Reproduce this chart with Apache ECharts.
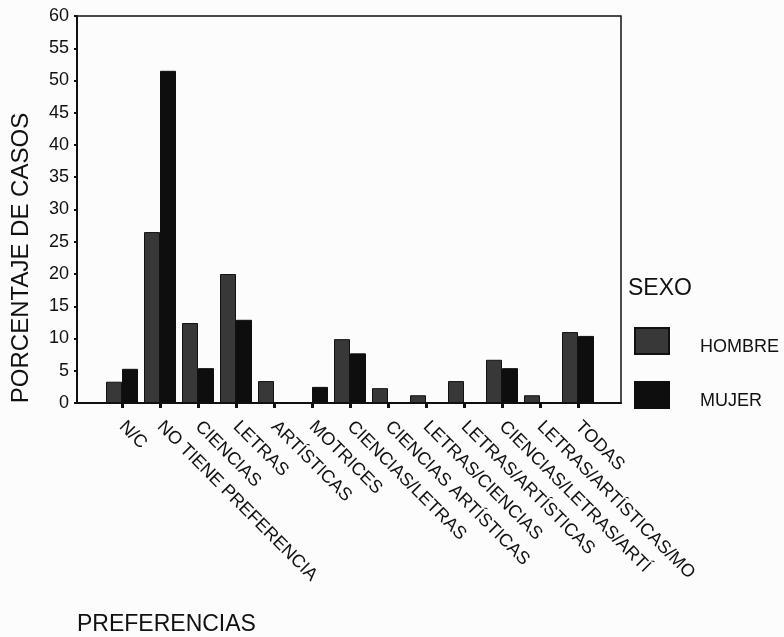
<!DOCTYPE html>
<html>
<head>
<meta charset="utf-8">
<script src="https://cdn.jsdelivr.net/npm/echarts@6/dist/echarts.min.js"></script>
<style>html,body{margin:0;padding:0;background:#fcfcfc;}#c{width:784px;height:637px;}</style>
</head>
<body>
<div id="c"></div>
<script>
const categories = ['N/C','NO TIENE PREFERENCIA','CIENCIAS','LETRAS','ARTÍSTICAS','MOTRICES','CIENCIAS/LETRAS','CIENCIAS ARTÍSTICAS','LETRAS/CIENCIAS','LETRAS/ARTÍSTICAS','CIENCIAS/LETRAS/ARTÍ','LETRAS/ARTÍSTICAS/MO','TODAS'];
const hombre = [3.3, 26.5, 12.4, 20.0, 3.4, 0, 9.9, 2.3, 1.2, 3.4, 6.7, 1.2, 11.0];
const mujer  = [5.3, 51.5, 5.4, 12.9, 0, 2.5, 7.7, 0, 0, 0, 5.4, 0, 10.4];
const yTicks = {min: 0, max: 60, interval: 5};

const FONT = 'Liberation Sans, Arial, sans-serif';
const chart = echarts.init(document.getElementById('c'), null, {renderer: 'canvas'});
chart.setOption({
  backgroundColor: '#fcfcfc',
  animation: false,
  textStyle: {fontFamily: FONT, color: '#111'},
  title: [
    {text: 'SEXO', left: 628, top: 277, padding: 0,
     textStyle: {fontSize: 23, fontWeight: 'normal', color: '#111', fontFamily: FONT}},
    {text: 'PREFERENCIAS', left: 77, top: 613, padding: 0,
     textStyle: {fontSize: 23, fontWeight: 'normal', color: '#111', fontFamily: FONT}}
  ],
  legend: {
    orient: 'vertical', left: 634, top: 327, padding: 0,
    itemWidth: 34, itemHeight: 26, itemGap: 25,
    icon: 'rect',
    data: ['HOMBRE', 'MUJER'],
    formatter: '{a|{name}}',
    textStyle: {fontSize: 18, color: '#111', fontFamily: FONT,
      rich: {a: {fontSize: 18, color: '#111', fontFamily: FONT, padding: [12, 0, 0, 26]}}}
  },
  grid: [
    {left: 77, top: 16, width: 544, height: 387, show: true, borderColor: '#111', borderWidth: 1.5, backgroundColor: 'transparent'},
    {left: 103, top: 16, width: 494, height: 387}
  ],
  xAxis: [
    {gridIndex: 0, type: 'value', min: 0, max: 1,
     axisLine: {show: true, lineStyle: {color: '#111', width: 2}},
     axisTick: {show: false}, axisLabel: {show: false}, splitLine: {show: false}},
    {gridIndex: 1, type: 'category', data: categories,
     axisLine: {show: false},
     axisTick: {show: true, alignWithLabel: true, length: 5, lineStyle: {color: '#111', width: 3}},
     axisLabel: {interval: 0, rotate: -45, margin: 21, fontSize: 18, color: '#111', fontFamily: FONT}}
  ],
  yAxis: [
    {gridIndex: 0, type: 'value', min: yTicks.min, max: yTicks.max, interval: yTicks.interval,
     name: 'PORCENTAJE DE CASOS', nameLocation: 'middle', nameGap: 44,
     nameTextStyle: {fontSize: 24, color: '#111', fontFamily: FONT, padding: [0, 97, 0, 0]},
     axisLine: {show: true, lineStyle: {color: '#111', width: 2}},
     axisTick: {show: true, length: 3, lineStyle: {color: '#111', width: 2}},
     axisLabel: {fontSize: 18, color: '#111', margin: 8, fontFamily: FONT, padding: [4, 0, 0, 0]},
     splitLine: {show: false}},
    {gridIndex: 1, type: 'value', min: yTicks.min, max: yTicks.max, interval: yTicks.interval, show: false}
  ],
  series: [
    {name: 'HOMBRE', type: 'bar', xAxisIndex: 1, yAxisIndex: 1, data: hombre,
     barWidth: 16, barGap: '0%',
     itemStyle: {color: '#383838', borderColor: '#111', borderWidth: 1}},
    {name: 'MUJER', type: 'bar', xAxisIndex: 1, yAxisIndex: 1, data: mujer,
     barWidth: 16, barGap: '0%',
     itemStyle: {color: '#0e0e0e', borderColor: '#0e0e0e', borderWidth: 1}}
  ]
});
</script>
</body>
</html>
